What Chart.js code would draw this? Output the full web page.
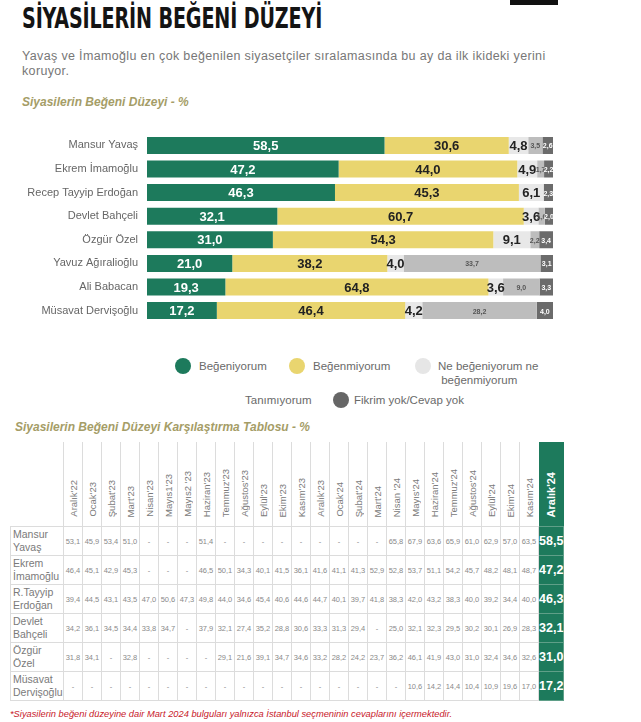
<!DOCTYPE html>
<html lang="tr">
<head>
<meta charset="utf-8">
<script src="https://cdn.jsdelivr.net/npm/chart.js@4.4.1/dist/chart.umd.min.js"></script>
<style>
  body { margin: 0; width: 641px; height: 722px; background: #fff; position: relative; overflow: hidden; font-family: "Liberation Sans", Arial, sans-serif; }
  .blk { position: absolute; left: 510px; top: 0; width: 48px; height: 5px; background: #111; }
  .title { position: absolute; left: 22px; top: 2px; font: bold 28px "Liberation Sans Narrow", "DejaVu Sans Condensed", sans-serif; color: #141414; transform: scaleX(0.76); transform-origin: left top; white-space: nowrap; letter-spacing: -0.2px; }
  .sub { position: absolute; left: 22px; top: 49px; font-size: 12.5px; letter-spacing: 0.35px; line-height: 15px; color: #777; white-space: nowrap; }
  .sect { position: absolute; left: 22px; top: 95px; font: italic bold 12px "Liberation Sans", sans-serif; color: #a59d67; white-space: nowrap; }
  #barBox { position: absolute; left: 0; top: 118px; width: 641px; height: 220px; }
  .lg { position: absolute; font-size: 11.5px; color: #6a6a6a; line-height: 14px; white-space: nowrap; }
  .dot { position: absolute; width: 16px; height: 16px; border-radius: 50%; }
  .tsect { position: absolute; left: 15px; top: 420px; font: italic bold 12px "Liberation Sans", sans-serif; color: #a59d67; white-space: nowrap; }
  #tbl { position: absolute; left: 10px; top: 442px; border-collapse: collapse; table-layout: fixed; width: 553px; }
  #tbl th { height: 75px; padding: 0 0 9px 0; vertical-align: bottom; border-left: 1px solid #dcdcdc; font-weight: normal; }
  #tbl th.first { border-left: none; }
  #tbl th div { writing-mode: vertical-rl; transform: rotate(180deg); font-size: 9.5px; color: #7a7a7a; margin: 0 auto; white-space: nowrap; }
  #tbl th.last { background: #1d7a5c; border-left: none; }
  #tbl th.last div { color: #fff; font-weight: bold; font-size: 11px; }
  #tbl td { height: 28px; border: 1px solid #dcdcdc; padding: 0; text-align: center; font-size: 7.5px; color: #8a8a8a; }
  #tbl td.name { text-align: left; font-size: 10.5px; line-height: 13px; color: #7a7a7a; padding-left: 2px; border-right: 1px solid #dcdcdc; }
  #tbl td.last { background: #1d7a5c; color: #fff; font-weight: bold; font-size: 12.5px; border: 1px solid #5f9f88; }
  .foot { position: absolute; left: 10px; top: 709px; font: italic 9.3px "Liberation Sans", sans-serif; color: #c8202a; white-space: nowrap; }
</style>
</head>
<body>
<div class="blk"></div>
<div class="title">SİYASİLERİN BEĞENİ DÜZEYİ</div>
<div class="sub">Yavaş ve İmamoğlu en çok beğenilen siyasetçiler sıralamasında bu ay da ilk ikideki yerini<br>koruyor.</div>
<div class="sect">Siyasilerin Beğeni Düzeyi - %</div>
<div id="barBox"><canvas id="barChart"></canvas></div>

<div class="dot" style="left:175px;top:358px;background:#1d7a5c"></div>
<div class="lg" style="left:199px;top:359px">Beğeniyorum</div>
<div class="dot" style="left:289px;top:358px;background:#e9d56f"></div>
<div class="lg" style="left:313px;top:359px">Beğenmiyorum</div>
<div class="dot" style="left:415px;top:358px;background:#e6e6e6"></div>
<div class="lg" style="left:438px;top:359px">Ne beğeniyorum ne<br>&nbsp;beğenmiyorum</div>
<div class="lg" style="left:245px;top:393px">Tanımıyorum</div>
<div class="dot" style="left:333px;top:392px;background:#666"></div>
<div class="lg" style="left:354px;top:393px">Fikrim yok/Cevap yok</div>

<div class="tsect">Siyasilerin Beğeni Düzeyi Karşılaştırma Tablosu - %</div>
<table id="tbl"></table>
<div class="foot">*Siyasilerin beğeni düzeyine dair Mart 2024 bulguları yalnızca İstanbul seçmeninin cevaplarını içermektedir.</div>

<script>
// bar chart data
const politicians = ['Mansur Yavaş', 'Ekrem İmamoğlu', 'Recep Tayyip Erdoğan', 'Devlet Bahçeli', 'Özgür Özel', 'Yavuz Ağıralioğlu', 'Ali Babacan', 'Müsavat Dervişoğlu'];
const begeniyorum = [58.5, 47.2, 46.3, 32.1, 31.0, 21.0, 19.3, 17.2];
const begenmiyorum = [30.6, 44.0, 45.3, 60.7, 54.3, 38.2, 64.8, 46.4];
const neNe = [4.8, 4.9, 6.1, 3.6, 9.1, 4.0, 3.6, 4.2];
const tanimiyorum = [3.5, 1.7, 0, 1.6, 2.2, 33.7, 9.0, 28.2];
const fikrimYok = [2.6, 2.2, 2.3, 2.0, 3.4, 3.1, 3.3, 4.0];

// table data
const months = ["Aralık'22", "Ocak'23", "Şubat'23", "Mart'23", "Nisan'23", "Mayıs1'23", "Mayıs2 '23", "Haziran'23", "Temmuz'23", "Ağustos'23", "Eylül'23", "Ekim'23", "Kasım'23", "Aralık'23", "Ocak'24", "Şubat'24", "Mart'24", "Nisan '24", "Mayıs'24", "Haziran'24", "Temmuz'24", "Ağustos'24", "Eylül'24", "Ekim'24", "Kasım'24", "Aralık'24"];
const tableNames = [['Mansur', 'Yavaş'], ['Ekrem', 'İmamoğlu'], ['R.Tayyip', 'Erdoğan'], ['Devlet', 'Bahçeli'], ['Özgür', 'Özel'], ['Müsavat', 'Dervişoğlu']];
const yavasRow = [53.1, 45.9, 53.4, 51.0, null, null, null, 51.4, null, null, null, null, null, null, null, null, null, 65.8, 67.9, 63.6, 65.9, 61.0, 62.9, 57.0, 63.5, 58.5];
const imamogluRow = [46.4, 45.1, 42.9, 45.3, null, null, null, 46.5, 50.1, 34.3, 40.1, 41.5, 36.1, 41.6, 41.1, 41.3, 52.9, 52.8, 53.7, 51.1, 54.2, 45.7, 48.2, 48.1, 48.7, 47.2];
const erdoganRow = [39.4, 44.5, 43.1, 43.5, 47.0, 50.6, 47.3, 49.8, 44.0, 34.6, 45.4, 40.6, 44.6, 44.7, 40.1, 39.7, 41.8, 38.3, 42.0, 43.2, 38.3, 40.0, 39.2, 34.4, 40.0, 46.3];
const bahceliRow = [34.2, 36.1, 34.5, 34.4, 33.8, 34.7, null, 37.9, 32.1, 27.4, 35.2, 28.8, 30.6, 33.3, 31.3, 29.4, null, 25.0, 32.1, 32.3, 29.5, 30.2, 30.1, 26.9, 28.3, 32.1];
const ozelRow = [31.8, 34.1, null, 32.8, null, null, null, null, 29.1, 21.6, 39.1, 34.7, 34.6, 33.2, 28.2, 24.2, 23.7, 36.2, 46.1, 41.9, 43.0, 31.0, 32.4, 34.6, 32.6, 31.0];
const dervisogluRow = [null, null, null, null, null, null, null, null, null, null, null, null, null, null, null, null, null, null, 10.6, 14.2, 14.4, 10.4, 10.9, 19.6, 17.0, 17.2];

const fmt = v => v.toFixed(1).replace('.', ',');

// labels inside the bar segments
const labelStyles = [
  { font: 'bold 13px "Liberation Sans Narrow", sans-serif', color: '#fff' },
  { font: 'bold 13px "Liberation Sans Narrow", sans-serif', color: '#222' },
  { font: 'bold 13px "Liberation Sans Narrow", sans-serif', color: '#222' },
  { font: 'bold 7px "Liberation Sans Narrow", sans-serif', color: '#555' },
  { font: 'bold 7px "Liberation Sans Narrow", sans-serif', color: '#fff' }
];
const segmentLabels = {
  id: 'segmentLabels',
  afterDatasetsDraw(chart) {
    const ctx = chart.ctx;
    chart.data.datasets.forEach((ds, i) => {
      chart.getDatasetMeta(i).data.forEach((bar, j) => {
        const v = ds.data[j];
        if (!v) return;
        ctx.save();
        ctx.font = labelStyles[i].font;
        ctx.fillStyle = labelStyles[i].color;
        ctx.textAlign = 'center';
        ctx.textBaseline = 'middle';
        ctx.fillText(fmt(v), (bar.x + bar.base) / 2, bar.y + 1);
        ctx.restore();
      });
    });
  }
};

new Chart(document.getElementById('barChart'), {
  type: 'bar',
  data: {
    labels: politicians,
    datasets: [
      { label: 'Beğeniyorum', data: begeniyorum, backgroundColor: '#1d7a5c' },
      { label: 'Beğenmiyorum', data: begenmiyorum, backgroundColor: '#e9d56f' },
      { label: 'Ne beğeniyorum ne beğenmiyorum', data: neNe, backgroundColor: '#e8e8e8' },
      { label: 'Tanımıyorum', data: tanimiyorum, backgroundColor: '#bdbdbd' },
      { label: 'Fikrim yok/Cevap yok', data: fikrimYok, backgroundColor: '#6b6b6b' }
    ]
  },
  options: {
    indexAxis: 'y',
    responsive: true,
    maintainAspectRatio: false,
    animation: false,
    layout: { padding: { top: 6, bottom: 3, left: 0, right: 88 } },
    datasets: { bar: { categoryPercentage: 1, barPercentage: 0.72 } },
    plugins: { legend: { display: false }, tooltip: { enabled: false } },
    scales: {
      x: { stacked: true, min: 0, max: 100, display: false },
      y: {
        stacked: true,
        grid: { display: false, drawTicks: false },
        border: { display: false },
        ticks: { color: '#666', padding: 9, font: { family: 'Liberation Sans', size: 11 } },
        afterFit: scale => { scale.width = 147; }
      }
    }
  },
  plugins: [segmentLabels]
});

// comparison table
const tableRows = [yavasRow, imamogluRow, erdoganRow, bahceliRow, ozelRow, dervisogluRow];
const tbl = document.getElementById('tbl');
let html = '<colgroup><col style="width:53px">';
months.forEach((m, i) => { html += '<col style="width:' + (i === months.length - 1 ? 25 : 19) + 'px">'; });
html += '</colgroup><tr><th class="first"></th>';
months.forEach((m, i) => {
  html += '<th' + (i === months.length - 1 ? ' class="last"' : '') + '><div>' + m + '</div></th>';
});
html += '</tr>';
tableRows.forEach((row, r) => {
  html += '<tr><td class="name">' + tableNames[r].join('<br>') + '</td>';
  row.forEach((v, i) => {
    const last = i === row.length - 1;
    html += '<td' + (last ? ' class="last"' : '') + '>' + (v === null ? '-' : fmt(v)) + '</td>';
  });
  html += '</tr>';
});
tbl.innerHTML = html;
</script>
</body>
</html>
